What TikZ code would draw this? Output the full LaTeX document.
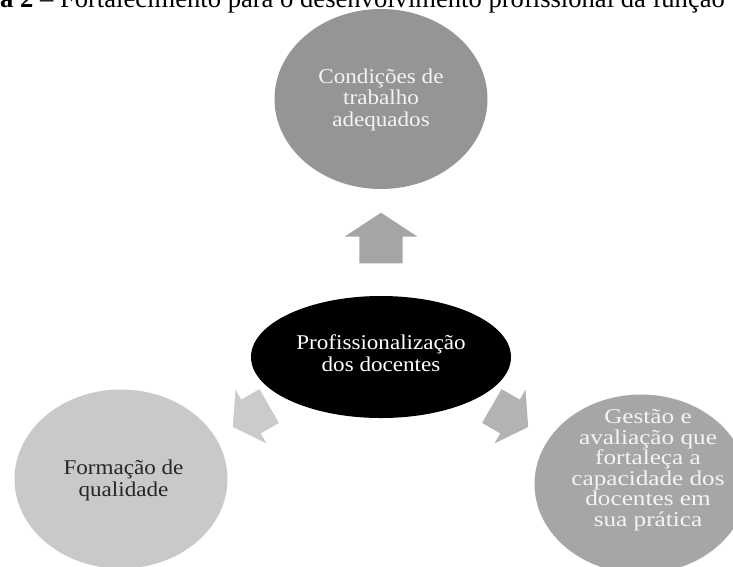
\documentclass[tikz,border=0pt]{standalone}
\usepackage{fontspec}
\setmainfont{Liberation Serif}
\newfontfamily\nodefont[FakeStretch=1.1]{Liberation Serif}
\newfontfamily\widefont[FakeStretch=1.2]{Liberation Serif}
\usetikzlibrary{shapes.geometric}
\definecolor{topgray}{HTML}{959595}
\definecolor{upgray}{HTML}{A5A5A5}
\definecolor{leftgray}{HTML}{CBCBCB}
\definecolor{rightgray}{HTML}{B3B3B3}
\definecolor{formgray}{HTML}{C9C9C9}
\definecolor{gestgray}{HTML}{A6A6A6}
\definecolor{lighttext}{HTML}{F4F4F4}
\definecolor{darktext}{HTML}{262626}
\newcommand{\blockarrow}[8]{%
  \fill[#8, shift={(#1,#2)}, rotate=#3]
    (-#4/2,-#6/2) -- (#4/2-#7,-#6/2) -- (#4/2-#7,-#5/2) -- (#4/2,0)
    -- (#4/2-#7,#5/2) -- (#4/2-#7,#6/2) -- (-#4/2,#6/2) -- cycle;}
\begin{document}
\begin{tikzpicture}[x=1pt,y=-1pt,
  bubble/.style={ellipse, draw=none, inner sep=0pt, minimum width=213pt, minimum height=179pt},
  txt/.style={inner sep=0pt, align=center, font=\nodefont\fontsize{21}{21.5}\selectfont},
  bigtxt/.style={inner sep=0pt, align=center, font=\widefont\fontsize{21}{20.5}\selectfont}]
\useasboundingbox (0,0) rectangle (733,566);
\clip (0,0) rectangle (733,566);
\node[anchor=base west, inner sep=0pt, font=\fontsize{26.6}{30}\selectfont] (title) at (0,7)
  {\textbf{a 2} – Fortalecimento para o desenvolvimento profissional da função};
\node[bubble, fill=topgray, minimum height=180pt] (top) at (381,99) {};
\node[txt, text=lighttext] (toptext) at (381,99.5) {Condições de\\trabalho\\adequados};
\blockarrow{381}{238}{90}{50.6}{73}{43.4}{24}{upgray}
\node[ellipse, fill=black, inner sep=0pt, minimum width=260pt, minimum height=122pt] (center) at (381,357) {};
\node[txt, text=white] (centertext) at (381,353) {Profissionalização\\dos docentes};
\blockarrow{251}{416.5}{210}{42}{62}{39}{21}{leftgray}
\blockarrow{510}{416.5}{330}{42}{62}{39}{21}{rightgray}
\node[bubble, fill=formgray] (form) at (121,479) {};
\node[txt, text=darktext] (formtext) at (123.5,480.5) {Formação de\\qualidade};
\node[bubble, fill=gestgray] (gest) at (641,484) {};
\node[bigtxt, text=lighttext] (gesttext) at (648,470) {Gestão e\\avaliação que\\fortaleça a\\capacidade dos\\docentes em\\sua prática};
\end{tikzpicture}
\end{document}
